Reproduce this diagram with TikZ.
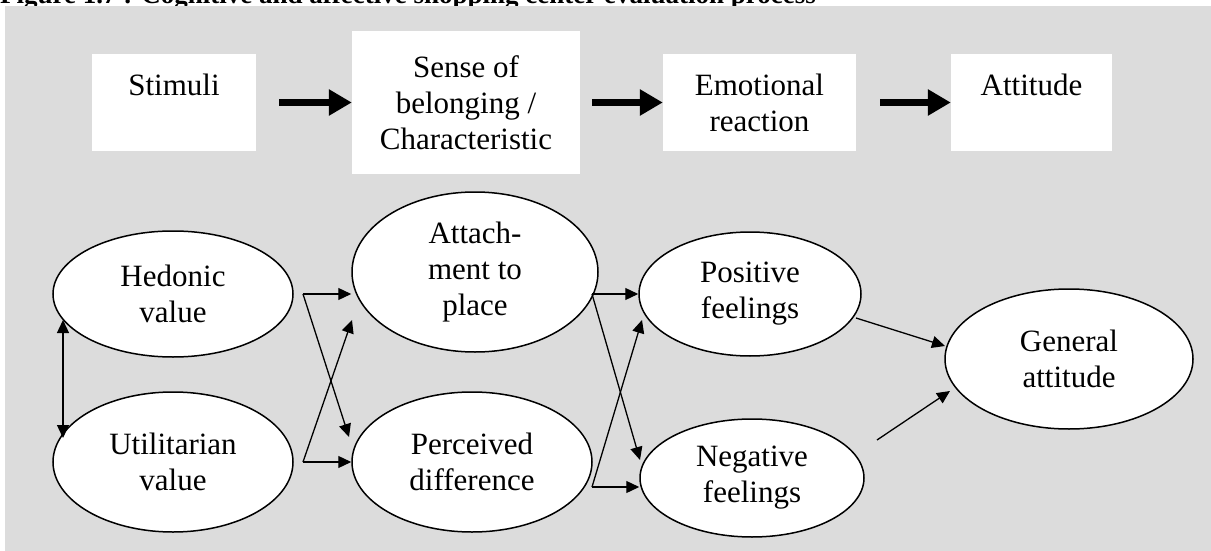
\documentclass[tikz,border=0pt]{standalone}
\usepackage{fontspec}
\setmainfont{Liberation Serif}
\usetikzlibrary{arrows.meta,shapes.geometric}
\definecolor{panel}{HTML}{DCDCDC}
\begin{document}
\begin{tikzpicture}[x=1pt,y=-1pt,
  every node/.style={font=\fontsize{31}{36}\selectfont, align=center, inner sep=0pt},
  stagebox/.style={rectangle, fill=white},
  oval/.style={ellipse, draw=black, line width=1.5pt, fill=white},
  flow/.style={line width=7pt, -{Triangle[length=23pt,width=25pt]}},
  link/.style={line width=1.3pt, -{Triangle[length=13pt,width=12pt]}},
  twoway/.style={line width=1.3pt, {Triangle[length=13pt,width=12pt]}-{Triangle[length=13pt,width=12pt]}},
]
\useasboundingbox (0,0) rectangle (1211,551);

% caption line (partly hidden by the panel)
\begin{scope}
  \clip (0,0) rectangle (1211,551);
  \node[anchor=base west, font=\fontsize{27}{32}\bfseries\selectfont] (title) at (0,4)
    {Figure 1.7 : Cognitive and affective shopping center evaluation process};
  \fill[panel] (5,6) rectangle (1211,551);
\end{scope}

% upper row: process stages
\node[stagebox, minimum width=164, minimum height=97]  (stim) at (174,102.5)   {Stimuli\\\mbox{}};
\node[stagebox, minimum width=228, minimum height=143] (sense) at (466,102.5)  {Sense of\\belonging /\\Characteristic};
\node[stagebox, minimum width=193, minimum height=97]  (emo) at (759.5,102.5)  {Emotional\\reaction};
\node[stagebox, minimum width=161, minimum height=97]  (attd) at (1031.5,102.5) {Attitude\\\mbox{}};

\draw[flow] ([xshift=23pt]stim.east) -- (sense.west);
\draw[flow] ([xshift=12pt]sense.east) -- (emo.west);
\draw[flow] ([xshift=24pt]emo.east) -- (attd.west);

% lower row: constructs
\node[oval, minimum width=240, minimum height=126] (hed) at (173,294)  {Hedonic\\value};
\node[oval, minimum width=240, minimum height=140] (uti) at (173,462)  {Utilitarian\\value};
\node[oval, minimum width=246, minimum height=160] (att) at (475,272)  {Attach-\\ment to\\place};
\node[oval, minimum width=240, minimum height=140] (per) at (472,462)  {Perceived\\difference};
\node[oval, minimum width=222, minimum height=124] (pos) at (750,294)  {Positive\\feelings};
\node[oval, minimum width=224, minimum height=118] (neg) at (752,478)  {Negative\\feelings};
\node[oval, minimum width=248, minimum height=140] (gen) at (1069,359) {General\\attitude};

% junction points and arrow ends
\coordinate (j1) at (303,294);
\coordinate (j2) at (303,462);
\coordinate (k1) at (592,294);
\coordinate (k2) at (592,487);
\coordinate (hedlow) at (63,320);
\coordinate (utitop) at (63,438);
\coordinate (attin) at (352,320);
\coordinate (perin) at (349,437);
\coordinate (posin) at (642,320);
\coordinate (negin) at (640,460);
\coordinate (posout) at (856,318);
\coordinate (negout) at (877,440);
\coordinate (genup) at (945,346);
\coordinate (genlow) at (950,391);

\draw[twoway] (hedlow) -- (utitop);

\draw[link] (j1) -- (j1 -| att.west);
\draw[link] (j1) -- (perin);
\draw[link] (j2) -- (j2 -| per.west);
\draw[link] (j2) -- (attin);

\draw[link] (k1) -- (k1 -| pos.west);
\draw[link] (k1) -- (negin);
\draw[link] (k2) -- (k2 -| neg.west);
\draw[link] (k2) -- (posin);

\draw[link] (posout) -- (genup);
\draw[link] (negout) -- (genlow);
\end{tikzpicture}
\end{document}
